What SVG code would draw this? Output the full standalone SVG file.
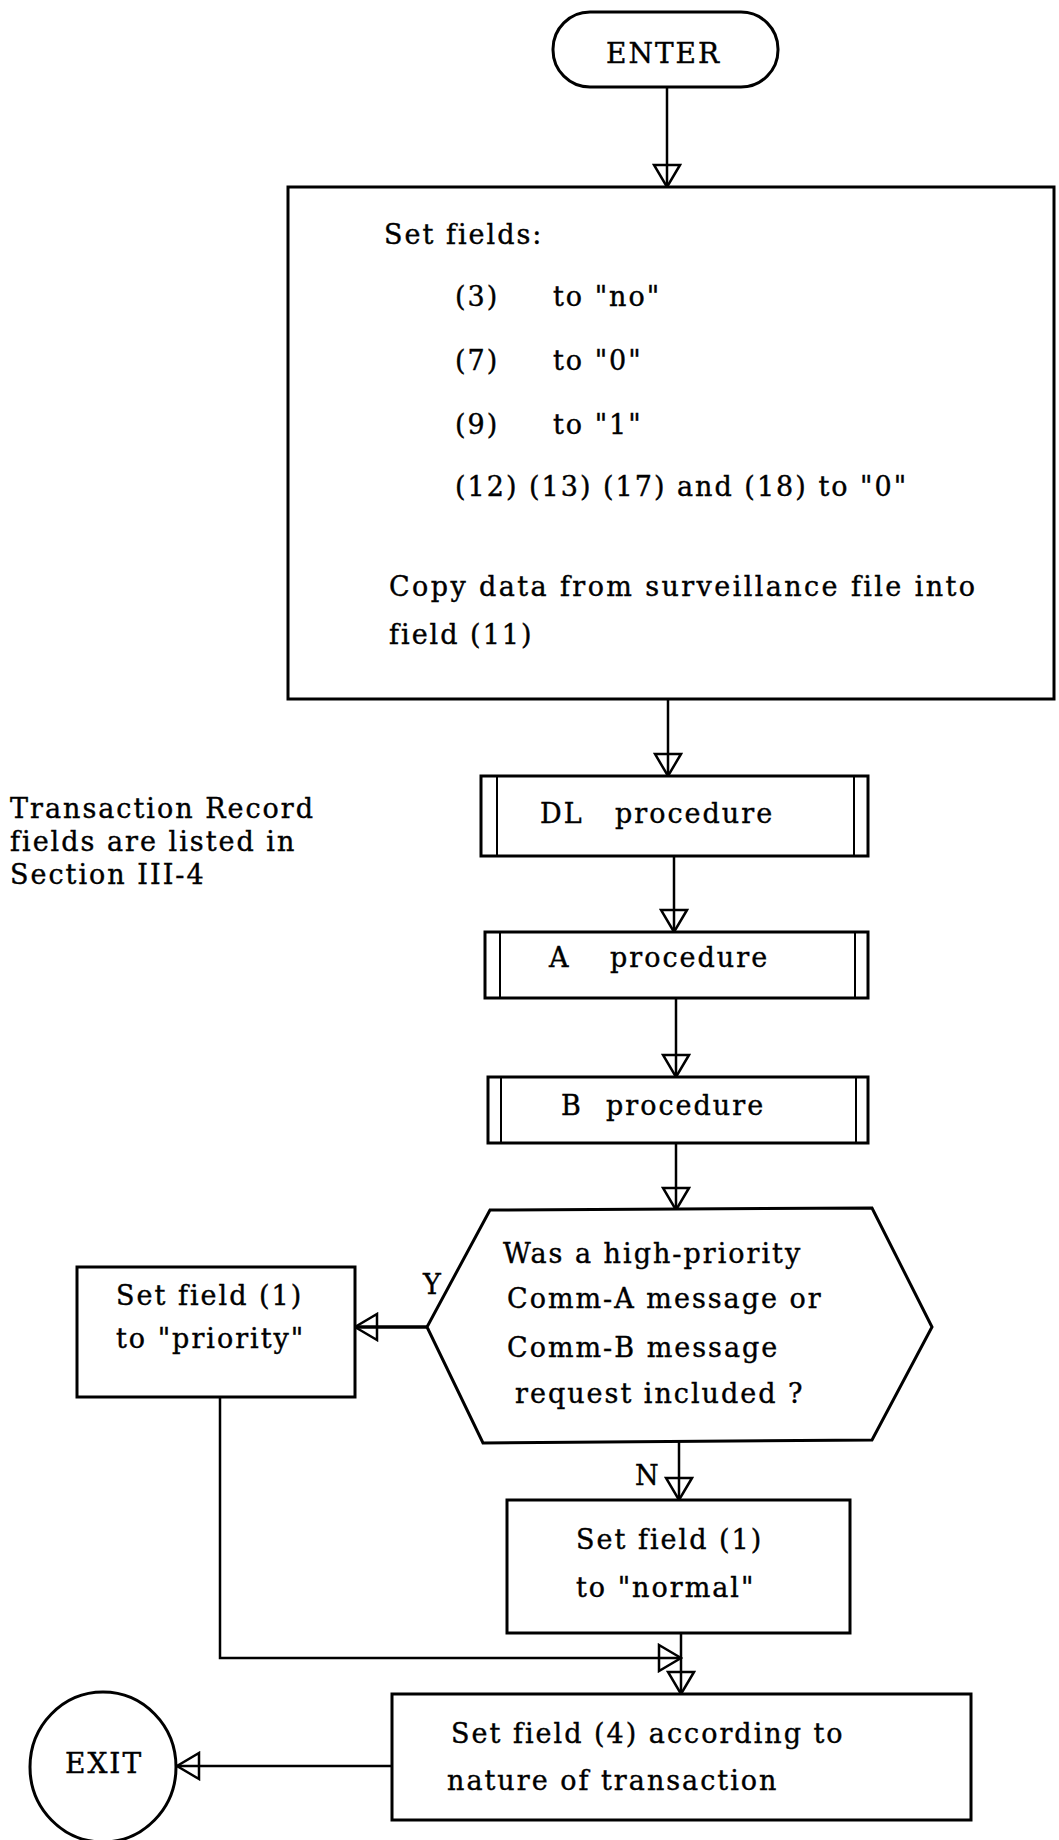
<svg xmlns="http://www.w3.org/2000/svg" width="1059" height="1840" viewBox="0 0 1059 1840">
<style>
.shape{fill:#fff;stroke:#000;stroke-width:3}
.thin{fill:none;stroke:#000;stroke-width:2}
.conn{fill:none;stroke:#000;stroke-width:2.5}
text{font-family:"DejaVu Serif","Liberation Serif",serif;font-size:27px;letter-spacing:2px;fill:#000;stroke:#000;stroke-width:0.4}
.big{font-size:28px}
</style>
<defs>
<marker id="ah" markerUnits="userSpaceOnUse" markerWidth="26" markerHeight="30" viewBox="0 0 26 30" refX="24" refY="15" orient="auto">
<path d="M2,2 L24,15 L2,28 Z" fill="none" stroke="#000" stroke-width="2.5"/>
</marker>
</defs>
<rect width="1059" height="1840" fill="#fff"/>
<g id="note">
<text x="10" y="818">Transaction Record</text>
<text x="10" y="851">fields are listed in</text>
<text x="10" y="884">Section III-4</text>
</g>
<g id="connectors">
<path class="conn" d="M667,87 V187" marker-end="url(#ah)"/>
<path class="conn" d="M668,699 V776" marker-end="url(#ah)"/>
<path class="conn" d="M674,856 V932" marker-end="url(#ah)"/>
<path class="conn" d="M676,998 V1077" marker-end="url(#ah)"/>
<path class="conn" d="M676,1143 V1210" marker-end="url(#ah)"/>
<path class="conn" d="M427,1327 H355" marker-end="url(#ah)" style="stroke-width:3.5"/>
<path class="conn" d="M679,1442 V1500" marker-end="url(#ah)"/>
<path class="conn" d="M220,1397 V1658 H681" marker-end="url(#ah)"/>
<path class="conn" d="M681,1633 V1694" marker-end="url(#ah)"/>
<path class="conn" d="M392,1766 H177" marker-end="url(#ah)"/>
<text x="423" y="1294">Y</text>
<text x="635" y="1485">N</text>
</g>
<g id="enter">
<rect class="shape" x="553" y="12" width="225" height="75" rx="37" ry="37"/>
<text class="big" x="606" y="63">ENTER</text>
</g>
<g id="set-fields">
<rect class="shape" x="288" y="187" width="766" height="512"/>
<text x="384" y="244">Set fields:</text>
<text x="455" y="306">(3)<tspan x="553">to "no"</tspan></text>
<text x="455" y="370">(7)<tspan x="553">to "0"</tspan></text>
<text x="455" y="434">(9)<tspan x="553">to "1"</tspan></text>
<text x="455" y="496">(12) (13) (17) and (18) to "0"</text>
<text x="389" y="596" textLength="588" lengthAdjust="spacing">Copy data from surveillance file into</text>
<text x="389" y="644">field (11)</text>
</g>
<g id="dl-procedure">
<rect class="shape" x="481" y="776" width="387" height="80"/>
<line class="thin" x1="497" y1="776" x2="497" y2="856"/>
<line class="thin" x1="854" y1="776" x2="854" y2="856"/>
<text x="540" y="823">DL <tspan x="615">procedure</tspan></text>
</g>
<g id="a-procedure">
<rect class="shape" x="485" y="932" width="383" height="66"/>
<line class="thin" x1="500" y1="932" x2="500" y2="998"/>
<line class="thin" x1="855" y1="932" x2="855" y2="998"/>
<text x="549" y="967">A <tspan x="610">procedure</tspan></text>
</g>
<g id="b-procedure">
<rect class="shape" x="488" y="1077" width="380" height="66"/>
<line class="thin" x1="501" y1="1077" x2="501" y2="1143"/>
<line class="thin" x1="856" y1="1077" x2="856" y2="1143"/>
<text x="561" y="1115">B <tspan x="606">procedure</tspan></text>
</g>
<g id="decision">
<polygon class="shape" points="490,1210 872,1208 932,1327 872,1440 483,1443 427,1327"/>
<text x="503" y="1263">Was a high-priority</text>
<text x="507" y="1308">Comm-A message or</text>
<text x="507" y="1357">Comm-B message</text>
<text x="515" y="1403">request included ?</text>
</g>
<g id="set-priority">
<rect class="shape" x="77" y="1267" width="278" height="130"/>
<text x="116" y="1305">Set field (1)</text>
<text x="116" y="1348">to "priority"</text>
</g>
<g id="set-normal">
<rect class="shape" x="507" y="1500" width="343" height="133"/>
<text x="576" y="1549">Set field (1)</text>
<text x="576" y="1597">to "normal"</text>
</g>
<g id="set-field-4">
<rect class="shape" x="392" y="1694" width="579" height="126"/>
<text x="451" y="1743">Set field (4) according to</text>
<text x="447" y="1790">nature of transaction</text>
</g>
<g id="exit">
<ellipse class="shape" cx="103" cy="1767" rx="73" ry="75"/>
<text class="big" x="65" y="1773">EXIT</text>
</g>
</svg>
